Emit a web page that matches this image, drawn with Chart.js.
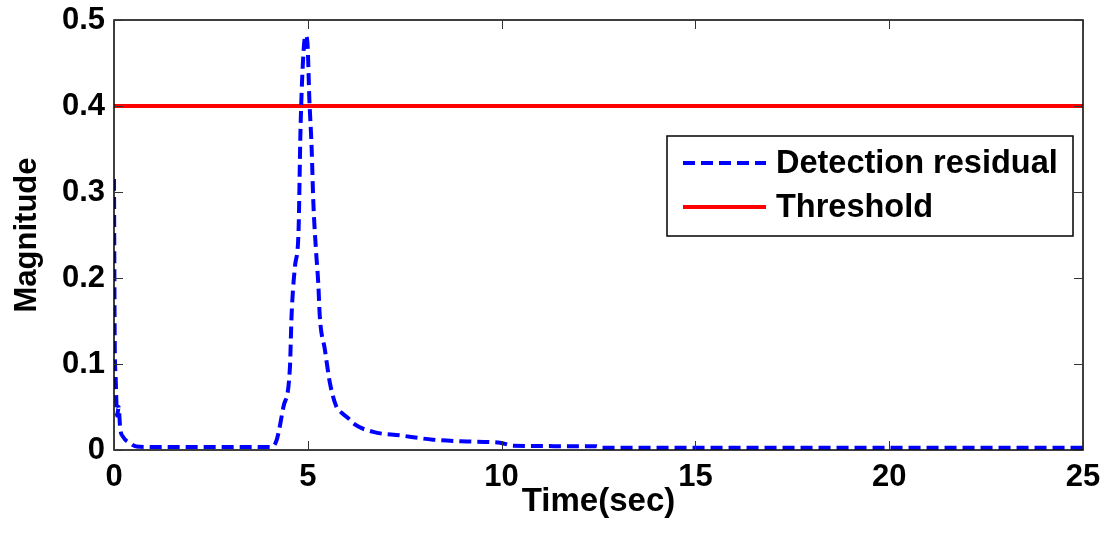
<!DOCTYPE html>
<html>
<head>
<meta charset="utf-8">
<script src="https://cdn.jsdelivr.net/npm/chart.js@4"></script>
<style>
  html, body { margin: 0; padding: 0; background: #fff; }
  #wrap { width: 1110px; height: 533px; }
</style>
</head>
<body>
<div id="wrap"><canvas id="residualChart" width="1110" height="533"></canvas></div>
<script>
// ======================================
// DATA
// ======================================
const timeSec = [
    0, 0.02, 0.04, 0.08, 0.12, 0.16, 0.24, 0.41, 0.58, 1.0,
    2.0, 3.0, 4.07, 4.2, 4.37, 4.54, 4.58, 4.67, 4.76, 4.81,
    4.87, 4.94, 4.99, 5.04, 5.1, 5.14, 5.21, 5.27, 5.31, 5.44,
    5.57, 5.74, 5.83, 6.09, 6.17, 6.69, 7.38, 8.23, 9.1, 9.96,
    10.3, 11.5, 12.45, 12.55, 15, 20, 25
];
const residual = [
    0.315, 0.12, 0.088, 0.04, 0.05, 0.025, 0.015, 0.008, 0.004, 0.0035,
    0.0035, 0.0035, 0.0035, 0.012, 0.05, 0.097, 0.155, 0.214, 0.253, 0.369,
    0.447, 0.482, 0.474, 0.408, 0.35, 0.291, 0.233, 0.194, 0.155, 0.117,
    0.078, 0.05, 0.045, 0.035, 0.031, 0.021, 0.017, 0.012, 0.010, 0.0085,
    0.005, 0.0045, 0.0045, 0.0025, 0.0025, 0.0025, 0.0025
];
const thresholdTime = [0, 25];
const thresholdValue = [0.4, 0.4];

const xTicks = [0, 5, 10, 15, 20, 25];
const yTicks = [0, 0.1, 0.2, 0.3, 0.4, 0.5];
const yTickLabels = ["0", "0.1", "0.2", "0.3", "0.4", "0.5"];

const FONT = '"Liberation Sans", Arial, sans-serif';

// ======================================
// PLUGINS
// ======================================
// box around the axes with inward tick marks on all four sides
const boxAxes = {
    id: "boxAxes",
    afterDatasetsDraw(chart) {
        const { ctx, chartArea: a, scales } = chart;
        const len = 9;
        ctx.save();
        ctx.strokeStyle = "#000";
        ctx.lineWidth = 1.5;
        ctx.strokeRect(a.left, a.top, a.right - a.left, a.bottom - a.top);
        ctx.lineWidth = 1;
        ctx.strokeStyle = "#333";
        ctx.beginPath();
        xTicks.forEach(v => {
            const px = Math.round(scales.x.getPixelForValue(v)) + 0.5;
            ctx.moveTo(px, a.bottom); ctx.lineTo(px, a.bottom - len);
            ctx.moveTo(px, a.top); ctx.lineTo(px, a.top + len);
        });
        yTicks.forEach(v => {
            const py = Math.round(scales.y.getPixelForValue(v)) + 0.5;
            ctx.moveTo(a.left, py); ctx.lineTo(a.left + len, py);
            ctx.moveTo(a.right, py); ctx.lineTo(a.right - len, py);
        });
        ctx.stroke();
        ctx.restore();
    }
};

// legend drawn inside the axes, upper right
const innerLegend = {
    id: "innerLegend",
    afterDraw(chart) {
        const { ctx, chartArea: a } = chart;
        const w = 406, h = 100;
        const x0 = a.right - 10 - w, y0 = a.top + 116;
        ctx.save();
        ctx.fillStyle = "#fff";
        ctx.fillRect(x0, y0, w, h);
        ctx.strokeStyle = "#000";
        ctx.lineWidth = 1.5;
        ctx.strokeRect(x0, y0, w, h);
        ctx.font = "bold 32.5px " + FONT;
        ctx.textBaseline = "middle";
        chart.data.datasets.forEach((ds, i) => {
            const cy = y0 + 27 + i * 44;
            ctx.strokeStyle = ds.borderColor;
            ctx.lineWidth = ds.borderWidth;
            ctx.setLineDash(ds.borderDash || []);
            ctx.beginPath();
            ctx.moveTo(x0 + 16, cy);
            ctx.lineTo(x0 + 99, cy);
            ctx.stroke();
            ctx.setLineDash([]);
            ctx.fillStyle = "#000";
            ctx.fillText(ds.label, x0 + 109, cy + 1);
        });
        ctx.restore();
    }
};

// ======================================
// CHART
// ======================================
const ctx = document.getElementById("residualChart");
const chart = new Chart(ctx, {
    type: "line",
    data: {
        datasets: [
            {
                label: "Detection residual",
                data: timeSec.map((t, i) => ({ x: t, y: residual[i] })),
                borderColor: "#0000ff",
                borderWidth: 4,
                borderDash: [12, 6],
                pointRadius: 0,
                tension: 0,
                cubicInterpolationMode: "monotone"
            },
            {
                label: "Threshold",
                data: thresholdTime.map((t, i) => ({ x: t, y: thresholdValue[i] })),
                borderColor: "#ff0000",
                borderWidth: 4,
                pointRadius: 0
            }
        ]
    },
    options: {
        responsive: false,
        animation: false,
        devicePixelRatio: 1,
        layout: { padding: { top: 20, right: 27, left: 0, bottom: 0 } },
        plugins: {
            legend: { display: false },
            tooltip: { enabled: false }
        },
        scales: {
            x: {
                type: "linear",
                min: 0,
                max: 25,
                afterBuildTicks: s => { s.ticks = xTicks.map(v => ({ value: v })); },
                afterFit: s => {
                    s.height = 83;
                    s.paddingLeft = 0;
                    s.paddingRight = 0;
                },
                grid: { display: false, drawTicks: false },
                border: { display: false },
                ticks: {
                    color: "#000",
                    padding: 9,
                    maxRotation: 0,
                    font: { family: FONT, size: 31, weight: "bold" }
                },
                title: {
                    display: true,
                    text: "Time(sec)",
                    color: "#000",
                    padding: { top: 0, bottom: 11 },
                    font: { family: FONT, size: 33, weight: "bold" }
                }
            },
            y: {
                min: 0,
                max: 0.5,
                afterBuildTicks: s => { s.ticks = yTicks.map(v => ({ value: v })); },
                afterFit: s => {
                    s.width = 114;
                    s.paddingTop = 0;
                    s.paddingBottom = 0;
                },
                grid: { display: false, drawTicks: false },
                border: { display: false },
                ticks: {
                    color: "#000",
                    padding: 9,
                    callback: (v, i) => yTickLabels[i],
                    font: { family: FONT, size: 31, weight: "bold" }
                },
                title: {
                    display: true,
                    text: "Magnitude",
                    color: "#000",
                    padding: { top: 9, bottom: 0 },
                    font: { family: FONT, size: 31, weight: "bold" }
                }
            }
        }
    },
    plugins: [boxAxes, innerLegend]
});
</script>
</body>
</html>
